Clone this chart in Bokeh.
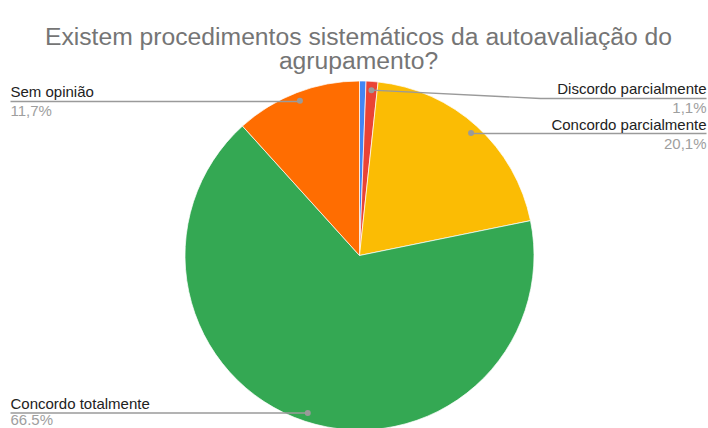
import numpy as np
from bokeh.plotting import figure
from bokeh.models import Range1d
from bokeh.core.properties import value
from bokeh.embed import file_html
from bokeh.resources import INLINE

# ---- data ----
title_lines = ["Existem procedimentos sistemáticos da autoavaliação do", "agrupamento?"]
categories = ["Discordo totalmente", "Discordo parcialmente", "Concordo parcialmente",
              "Concordo totalmente", "Sem opinião"]
values = [0.6, 1.1, 20.1, 66.5, 11.7]
pct_labels = ["0,6%", "1,1%", "20,1%", "66.5%", "11,7%"]
colors = ["#4285f4", "#ea4335", "#fbbc04", "#34a853", "#ff6d01"]

# ---- layout (page pixel coordinates, y downward) ----
W, H = 708, 428
CX, CY, R = 359.0, 255.0, 174.5
FONT = "Liberation Sans"

# label placement per slice: (side, name_y, line_y, pct_y, elbow_x) ; None = no label
label_layout = [
    None,
    ("right", 88, 98, 107, 540),
    ("right", 124, 133, 143, None),
    ("left", 403, 412.5, 418.5, None),
    ("left", 91, 101, 110, None),
]
LEFT_X, RIGHT_X = 10, 706

def Y(py):
    return H - py

p = figure(width=W, height=H, output_backend="svg", toolbar_location=None,
           x_range=Range1d(0, W), y_range=Range1d(0, H),
           min_border=0, x_axis_location=None, y_axis_location=None)
p.grid.visible = False
p.outline_line_color = None
p.background_fill_color = "white"
p.border_fill_color = "white"

vals = np.array(values, dtype=float)
fr = vals / vals.sum()
cum = np.concatenate([[0.0], np.cumsum(fr)])
starts = np.pi / 2 - 2 * np.pi * cum[:-1]
ends = np.pi / 2 - 2 * np.pi * cum[1:]

p.wedge(x=[CX] * len(vals), y=[Y(CY)] * len(vals), radius=R,
        start_angle=list(starts), end_angle=list(ends), direction="clock",
        fill_color=colors, line_color="white", line_width=0.7)

# title
p.text(x=[358, 358], y=[Y(36), Y(59.5)], text=title_lines, text_align="center",
       text_baseline="alphabetic", text_font=value(FONT), text_font_size="24.7px",
       text_color="#757575")

# leader lines & labels
for i, lay in enumerate(label_layout):
    if lay is None:
        continue
    side, ny, ly, py, ex = lay
    mid = 2 * np.pi * (cum[i] + cum[i + 1]) / 2
    dx = CX + 0.95 * R * np.sin(mid)
    dy = CY - 0.95 * R * np.cos(mid)
    edge = LEFT_X if side == "left" else RIGHT_X
    if ex is None:
        xs = [dx, edge]
        ys = [Y(ly), Y(ly)]
        if abs(dy - ly) > 0.6:
            xs = [dx, dx, edge]
            ys = [Y(dy), Y(ly), Y(ly)]
    else:
        xs = [dx, ex, edge]
        ys = [Y(dy), Y(ly), Y(ly)]
    p.line(xs, ys, line_color="#9a9a9a", line_width=1.4)
    p.scatter([dx], [Y(dy)], size=6, fill_color="#9a9a9a", line_color=None)
    align = "left" if side == "left" else "right"
    p.text(x=[edge], y=[Y(ny)], text=[categories[i]], text_align=align,
           text_baseline="middle", text_font=value(FONT), text_font_size="15px",
           text_color="#222222")
    p.text(x=[edge], y=[Y(py)], text=[pct_labels[i]], text_align=align,
           text_baseline="middle", text_font=value(FONT), text_font_size="15px",
           text_color="#9e9e9e")

open("out.html", "w").write(file_html(p, INLINE))
